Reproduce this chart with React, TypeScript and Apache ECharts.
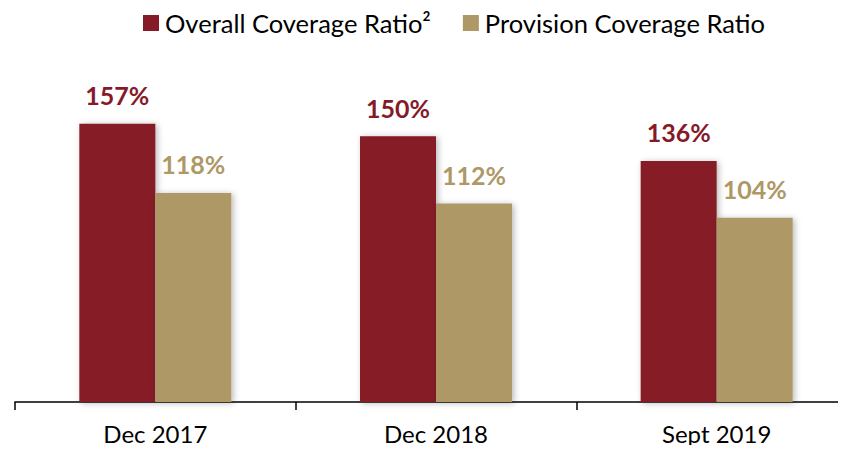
import React, { useEffect, useRef } from "react";
import * as echarts from "echarts";

const categories = ["Dec 2017", "Dec 2018", "Sept 2019"];
const overallCoverage = [157, 150, 136];
const provisionCoverage = [118, 112, 104];
const seriesNames = ["Overall Coverage Ratio²", "Provision Coverage Ratio"];

const RED = "#851A28";
const TAN = "#AD9866";
const FONT = "Lato, 'Open Sans', sans-serif";

export default function App() {
  const ref = useRef<HTMLDivElement>(null);
  useEffect(() => {
    if (!ref.current) return;
    const chart = echarts.init(ref.current, null, { renderer: "svg" });
    const shadow = {
      shadowBlur: 6,
      shadowColor: "rgba(0,0,0,0.28)",
      shadowOffsetX: 2,
      shadowOffsetY: 1,
    };
    const label = (color: string) => ({
      show: true,
      position: "top",
      distance: 16,
      formatter: "{c}%",
      fontSize: 25,
      fontWeight: "bold",
      color,
      fontFamily: FONT,
    });
    chart.setOption({
      animation: false,
      backgroundColor: "#ffffff",
      textStyle: { fontFamily: FONT },
      legend: {
        left: 138,
        top: 5,
        itemWidth: 16,
        itemHeight: 16,
        itemGap: 32,
        icon: "rect",
        textStyle: { fontSize: 25.5, color: "#000", fontFamily: FONT, padding: [0, 0, 0, 1] },
        data: seriesNames,
      },
      grid: { left: 15, right: 0, top: 83, bottom: 51, containLabel: false },
      xAxis: {
        type: "category",
        data: categories,
        axisLine: { lineStyle: { color: "#000", width: 1.5 } },
        axisTick: { show: true, length: 8, lineStyle: { color: "#000", width: 1.5 } },
        axisLabel: { fontSize: 24, color: "#000", margin: 19, fontFamily: FONT },
      },
      yAxis: {
        type: "value",
        min: 0,
        max: 180,
        show: false,
        splitLine: { show: false },
      },
      series: [
        {
          name: seriesNames[0],
          type: "bar",
          data: overallCoverage,
          barWidth: 76,
          barGap: "0%",
          itemStyle: { color: RED, ...shadow },
          label: label(RED),
        },
        {
          name: seriesNames[1],
          type: "bar",
          data: provisionCoverage,
          barWidth: 76,
          barGap: "0%",
          itemStyle: { color: TAN, ...shadow },
          label: label(TAN),
        },
      ],
    });
    return () => chart.dispose();
  }, []);
  return (
    <div style={{ width: 846, height: 453, overflow: "hidden", margin: -8, position: "relative" }}>
      <div ref={ref} style={{ width: 857, height: 453 }} />
    </div>
  );
}
